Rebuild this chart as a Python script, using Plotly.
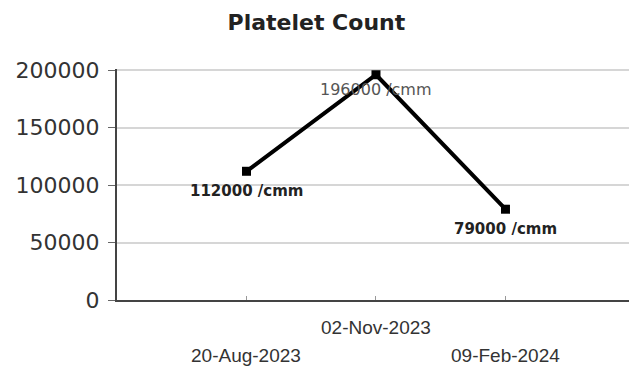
import plotly.graph_objects as go

# Platelet count readings
dates = ["20-Aug-2023", "02-Nov-2023", "09-Feb-2024"]
counts = [112000, 196000, 79000]
unit = "/cmm"
y_ticks = [0, 50000, 100000, 150000, 200000]

xs = list(range(len(dates)))

fig = go.Figure()
fig.add_trace(go.Scatter(
    x=xs, y=counts,
    mode="lines+markers",
    line=dict(color="black", width=4),
    marker=dict(symbol="square", size=9, color="black"),
    cliponaxis=False,
    hoverinfo="skip",
))

# value labels under each point (the peak one in plain grey)
label_styles = [
    dict(color="#222222", bold=True, shift=-20, size=15),
    dict(color="#555555", bold=False, shift=-15, size=16),
    dict(color="#222222", bold=True, shift=-20, size=15),
]
for x, v, st in zip(xs, counts, label_styles):
    txt = f"{v} {unit}"
    if st["bold"]:
        txt = f"<b>{txt}</b>"
    fig.add_annotation(
        x=x, y=v, text=txt, showarrow=False,
        xanchor="center", yanchor="middle", yshift=st["shift"],
        font=dict(family="DejaVu Sans", size=st["size"], color=st["color"]),
    )

# staggered date labels along the x axis
for i, d in enumerate(dates):
    fig.add_annotation(
        x=i, y=0, yref="y", text=d, showarrow=False,
        xanchor="center", yanchor="middle",
        yshift=-27 if i % 2 == 1 else -55,
        font=dict(family="Liberation Sans", size=19, color="#333333"),
    )

fig.update_layout(
    width=629, height=372,
    margin=dict(l=117, r=0, t=69, b=72),
    paper_bgcolor="white", plot_bgcolor="white",
    showlegend=False,
    title=dict(
        text="<b>Platelet Count</b>", x=0.503, xanchor="center",
        y=0.94, yanchor="middle",
        font=dict(family="DejaVu Sans", size=22, color="#222222"),
    ),
)
fig.update_xaxes(
    range=[-1, 2.954], showgrid=False, zeroline=False,
    showline=True, linecolor="#444444", linewidth=2,
    tickvals=xs, ticks="inside", ticklen=4, tickcolor="#999999",
    showticklabels=False,
)
fig.update_yaxes(
    range=[0, 201000], tickvals=y_ticks,
    ticktext=[str(t) for t in y_ticks],
    showgrid=True, gridcolor="#d6d6d6", gridwidth=1.5,
    zeroline=False, showline=True, linecolor="#444444", linewidth=2,
    ticks="outside", ticklen=7, tickcolor="#666666",
    ticklabelstandoff=4,
    tickfont=dict(family="DejaVu Sans", size=22, color="#333333"),
)

fig.write_html("out.html")
